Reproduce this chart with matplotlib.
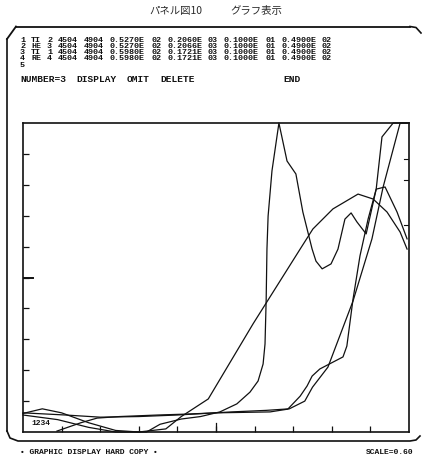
import matplotlib
matplotlib.use("Agg")
import matplotlib.pyplot as plt
import numpy as np

plt.rcParams['font.family'] = ['Noto Sans CJK JP', 'DejaVu Sans']

# ---- data -------------------------------------------------------------
title_left = "パネル図10"
title_right = "グラフ表示"

rows = [
    ["1", "TI", "2", "4504", "4904", "0.5270E", "02", "0.2060E", "03", "0.1000E", "01", "0.4900E", "02"],
    ["2", "HE", "3", "4504", "4904", "0.5270E", "02", "0.2066E", "03", "0.1000E", "01", "0.4900E", "02"],
    ["3", "TI", "1", "4504", "4904", "0.5980E", "02", "0.1721E", "03", "0.1000E", "01", "0.4900E", "02"],
    ["4", "RE", "4", "4504", "4904", "0.5980E", "02", "0.1721E", "03", "0.1000E", "01", "0.4900E", "02"],
    ["5"],
]
menu_items = ["NUMBER=3", "DISPLAY", "OMIT", "DELETE", "END"]
curve_ids = "1234"
footer_left = "• GRAPHIC DISPLAY HARD COPY •"
footer_right = "SCALE=0.60"

# curve 1: broad hump
c1_x = [0.0, 0.5, 1.0, 1.7, 2.4, 3.0, 3.7, 4.1, 4.8, 5.96, 7.18, 7.51, 8.03, 8.68, 9.07, 9.43, 9.77, 9.95]
c1_y = [0.6, 0.75, 0.62, 0.3, 0.05, 0.0, 0.1, 0.5, 1.07, 3.5, 5.92, 6.57, 7.22, 7.70, 7.54, 7.12, 6.47, 5.92]
# curve 2: sharp peak
c2_x = [0.0, 0.9, 1.7, 2.4, 3.2, 3.55, 4.1, 4.6, 5.1, 5.54, 5.88, 6.09, 6.22, 6.27, 6.30, 6.32, 6.35, 6.45,
        6.63, 6.84, 7.07, 7.25, 7.49, 7.59, 7.75, 7.98, 8.16, 8.34, 8.50, 8.65, 8.89, 9.15, 9.38, 9.69, 9.95]
c2_y = [0.55, 0.4, 0.15, 0.0, 0.0, 0.25, 0.42, 0.5, 0.65, 0.91, 1.29, 1.65, 2.2, 2.85, 4.3, 5.92, 6.99, 8.45,
        10.0, 8.77, 8.35, 7.12, 5.92, 5.53, 5.28, 5.44, 5.92, 6.89, 7.09, 6.80, 6.41, 7.86, 7.93, 7.12, 6.25]
# curve 3: late rise
c3_x = [0.88, 1.5, 1.92, 2.5, 3.5, 4.25, 5.0, 6.4, 6.86, 7.18, 7.36, 7.49, 7.69, 8.29, 8.39, 8.55, 8.73,
        8.94, 9.15, 9.30, 9.59, 9.95]
c3_y = [0.03, 0.3, 0.45, 0.5, 0.55, 0.58, 0.62, 0.65, 0.74, 1.16, 1.49, 1.81, 2.04, 2.43, 2.78, 4.3, 5.7,
        6.89, 7.86, 9.55, 10.0, 10.0]
# curve 4: late rise
c4_x = [0.0, 1.1, 2.0, 3.0, 4.0, 4.7, 5.4, 6.3, 6.9, 7.3, 7.5, 7.9, 8.55, 9.04, 9.33, 9.77, 10.0]
c4_y = [0.62, 0.55, 0.48, 0.5, 0.55, 0.6, 0.65, 0.7, 0.75, 1.0, 1.45, 2.1, 4.24, 6.25, 7.93, 10.0, 10.0]

W, H = 422, 464
fig = plt.figure(figsize=(W / 100, H / 100), dpi=100)
fig.patch.set_facecolor("white")

# page layer in pixel units
page = fig.add_axes([0, 0, 1, 1])
page.set_xlim(0, W)
page.set_ylim(H, 0)
page.axis("off")

ink = "#111111"
mono = ["Liberation Mono", "DejaVu Sans Mono"]
cjk = ["Noto Sans CJK JP", "DejaVu Sans"]

page.text(176, 11, title_left, ha="center", va="center", fontsize=7.5, color="#2a2a2a", family=cjk)
page.text(256, 11, title_right, ha="center", va="center", fontsize=7.5, color="#2a2a2a", family=cjk)

# CRT screen outline
page.plot([16, 410], [27.5, 27.5], color=ink, lw=1.3)
page.plot([7, 16], [40, 27.5], color=ink, lw=1.3)
page.plot([410, 416, 421], [27.5, 28.5, 34], color=ink, lw=1.2)
page.plot([7, 7], [40, 432], color=ink, lw=1.2)
page.plot([7, 10, 18, 410, 416, 420], [432, 439, 442, 442, 441, 437], color=ink, lw=1.2)

# parameter table
col_x = [20, 31, 47, 58, 84, 110, 151, 167, 208, 224, 265, 281, 322]
for i, row in enumerate(rows):
    y = 40 + i * 6.3
    for tok, x in zip(row, col_x):
        page.text(x, y, tok, ha="left", va="center", fontsize=6, fontweight="bold",
                  color=ink, family=mono)

menu_x = [20, 76, 127, 160, 283]
for tok, x in zip(menu_items, menu_x):
    page.text(x, 79, tok, ha="left", va="center", fontsize=6.8, fontweight="bold",
              color=ink, family=mono)

page.text(20, 453, footer_left, ha="left", va="center", fontsize=5.8, fontweight="bold",
          color=ink, family=mono)
page.text(413, 453, footer_right, ha="right", va="center", fontsize=5.8, fontweight="bold",
          color=ink, family=mono)

# plotting area
ax = fig.add_axes([23 / W, 1 - 433 / H, 386 / W, 309 / H])
ax.set_xlim(0, 10)
ax.set_ylim(0, 10)
ax.patch.set_alpha(0)
for s in ax.spines.values():
    s.set_color(ink)
    s.set_linewidth(1.2)

for xs, ys in [(c1_x, c1_y), (c2_x, c2_y), (c3_x, c3_y), (c4_x, c4_y)]:
    ax.plot(xs, ys, color=ink, lw=0.9, solid_joinstyle="round", clip_on=False)

ax.set_xticks(np.arange(1, 10))
ax.set_yticks(np.arange(1, 10))
ax.set_xticklabels([])
ax.set_yticklabels([])
ax.tick_params(direction="in", length=4, width=0.9, color=ink, right=False, top=False)
# longer centre ticks
ax.plot([5, 5], [0, 0.28], color=ink, lw=0.9)
ax.plot([0, 0.25], [5, 5], color=ink, lw=1.4)
# right-edge marks
for yv in [8.85, 8.15, 6.7]:
    ax.plot([9.88, 10], [yv, yv], color=ink, lw=0.8)

ax.text(0.22, 0.3, curve_ids, ha="left", va="center", fontsize=5.8, fontweight="bold",
        color=ink, family=mono)

fig.savefig("out.png", dpi=100, facecolor="white")
